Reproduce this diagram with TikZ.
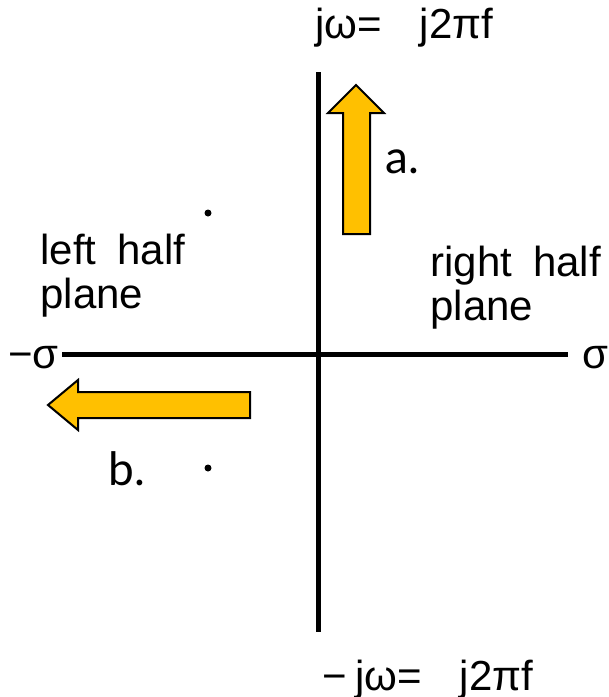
\documentclass[tikz,border=0pt]{standalone}
\usepackage{fontspec}
\setmainfont{Liberation Sans}
\newfontfamily\tagfont{Lato}
\usetikzlibrary{positioning}
\definecolor{myorange}{RGB}{255,192,0}

\begin{document}
\begin{tikzpicture}[x=0.5pt, y=-0.5pt,
    axis/.style={line width=2.5pt, black},
    bigarrow/.style={fill=myorange, draw=black, line width=1pt, line join=miter},
    lbl/.style={font=\fontsize{21}{22}\selectfont, inner sep=0pt, anchor=base west, align=left},
    tag/.style={font=\tagfont\fontsize{23}{26}\selectfont, inner sep=0pt, anchor=base west},
    pole/.style={circle, fill=black, inner sep=0pt, minimum size=3.5pt}]
\useasboundingbox (0,0) rectangle (609,697);
% axes
\coordinate (top) at (318,72);
\coordinate (bottom) at (318,632);
\coordinate (left) at (62,354);
\coordinate (right) at (568,354);
\draw[axis] (left) -- (right);
\draw[axis] (top) -- (bottom);
% axis labels
\node[lbl] (jw) at (315,38) {jω=\hspace{0.9em}j2πf};
\node[lbl] (mjw) at (322,690) {−\hspace{0.2em}jω=\hspace{0.9em}j2πf};
\node[lbl] (msigma) at (8,368) {−σ};
\node[lbl] (sigma) at (582,368) {σ};
\node[lbl] (lhp) at (40,308) {left\hspace{0.5em}half\\plane};
\node[lbl] (rhp) at (430,320) {right\hspace{0.5em}half\\plane};
% poles
\node[pole] (p1) at (208,213) {};
\node[pole] (p2) at (208,468) {};
% block arrows
\draw[bigarrow] (343,234) -- (343,113) -- (328,113) -- (356,85) -- (384,113)
    -- (370,113) -- (370,234) -- cycle;
\draw[bigarrow] (250,392) -- (78,392) -- (78,380) -- (48,405) -- (78,430)
    -- (78,418) -- (250,418) -- cycle;
\node[tag] (a) at (385,173) {a.};
\node[tag] (b) at (108,485) {b.};
\end{tikzpicture}
\end{document}
